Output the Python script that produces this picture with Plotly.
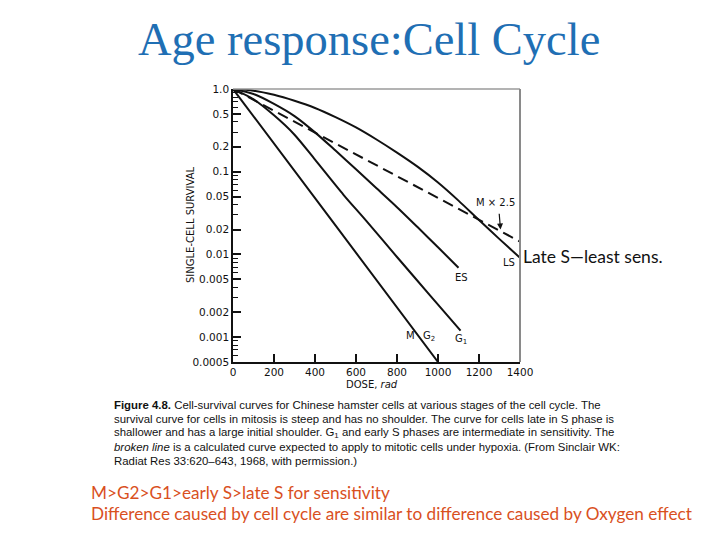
import plotly.graph_objects as go

# ---------------- data ----------------
dose_m = [0, 500, 1000]
surv_m = [1.0, 0.0224, 0.0005]

dose_g1 = [0, 100, 200, 300, 400, 539, 645, 800, 963, 1110]
surv_g1 = [1.0, 0.75, 0.48, 0.28, 0.14, 0.0526, 0.0263, 0.0093, 0.00316, 0.0012]

dose_es = [0, 100, 200, 300, 400, 500, 600, 700, 800, 900, 1000, 1100]
surv_es = [1.0, 0.87, 0.66, 0.47, 0.299, 0.18, 0.107, 0.063, 0.0372, 0.0214, 0.0122, 0.0069]

dose_ls = [0, 100, 200, 300, 400, 500, 600, 700, 800, 900, 1000, 1100, 1200, 1300, 1400]
surv_ls = [1.0, 0.955, 0.85, 0.72, 0.59, 0.457, 0.343, 0.245, 0.17, 0.115, 0.074,
           0.0447, 0.026, 0.0153, 0.0091]

dose_hyp = [0, 1400]
surv_hyp = [1.0, 0.0143]

x_ticks = [0, 200, 400, 600, 800, 1000, 1200, 1400]
x_tick_text = ["0", "200", "400", "600", "800", "1000", "1200", "1400"]
y_ticks = [1.0, 0.5, 0.2, 0.1, 0.05, 0.02, 0.01, 0.005, 0.002, 0.001, 0.0005]
y_tick_text = ["1.0", "0.5", "0.2", "0.1", "0.05", "0.02", "0.01", "0.005", "0.002", "0.001", "0.0005"]
y_minor = [m * 10.0 ** k for k in range(-4, 0) for m in (3, 4, 6, 7, 8, 9)]
y_minor = [v for v in y_minor if 0.0005 < v < 1.0]

title_text = "Age response:Cell Cycle"
caption_lines = [
    "<b>Figure 4.8.</b> Cell-survival curves for Chinese hamster cells at various stages of the cell cycle. The",
    "survival curve for cells in mitosis is steep and has no shoulder. The curve for cells late in S phase is",
    "shallower and has a large initial shoulder. G<sub>1</sub> and early S phases are intermediate in sensitivity. The",
    "<i>broken line</i> is a calculated curve expected to apply to mitotic cells under hypoxia. (From Sinclair WK:",
    "Radiat Res 33:620\u2013643, 1968, with permission.)",
]
note_lines = [
    "M>G2>G1>early S>late S for sensitivity",
    "Difference caused by cell cycle are similar to difference caused by Oxygen effect",
]

# ---------------- figure ----------------
W, H = 728, 546
L, R, T, B = 233, 520, 89, 362   # plot area in pixels


def px(x):
    return (x - L) / (R - L)


def py(y):
    return (B - y) / (B - T)


fig = go.Figure()
for d, s in [(dose_m, surv_m), (dose_g1, surv_g1), (dose_es, surv_es), (dose_ls, surv_ls)]:
    fig.add_trace(go.Scatter(x=d, y=s, mode="lines",
                             line=dict(color="#111111", width=2, shape="spline", smoothing=0.8),
                             showlegend=False, hoverinfo="skip"))
fig.add_trace(go.Scatter(x=dose_hyp, y=surv_hyp, mode="lines",
                         line=dict(color="#111111", width=2, dash="11px,6px"),
                         showlegend=False, hoverinfo="skip"))

axfont = dict(family="DejaVu Sans", size=10.5, color="#111111")
fig.update_xaxes(range=[0, 1400], tickvals=x_ticks, ticktext=x_tick_text, ticks="inside",
                 ticklen=8, tickwidth=1.5, tickcolor="#111", showline=True, linecolor="#111",
                 linewidth=1.5, showgrid=False, zeroline=False, tickfont=axfont)
fig.update_yaxes(type="log", range=[-3.30103, 0], tickvals=y_ticks, ticktext=y_tick_text,
                 ticks="inside", ticklen=8, tickwidth=1.5, tickcolor="#111", showline=True,
                 linecolor="#111", linewidth=1.5, showgrid=False, zeroline=False, tickfont=axfont,
                 minor=dict(tickvals=y_minor, ticks="inside", ticklen=5, tickwidth=1, tickcolor="#111"))

# top and right frame (grey)
fig.add_shape(type="line", xref="paper", yref="paper", x0=0, x1=1, y0=1, y1=1,
              line=dict(color="#9a9a9a", width=1.5))
fig.add_shape(type="line", xref="paper", yref="paper", x0=1, x1=1, y0=0, y1=1,
              line=dict(color="#8a8a8a", width=2))

lab = dict(family="DejaVu Sans", size=10, color="#111111")
ann = []
# curve labels (data coordinates, log10 for y)
for text, x, ly in [("M \u00d7 2.5", 1280, -1.376), ("LS", 1344, -2.10), ("ES", 1114, -2.285),
                    ("G<sub>1</sub>", 1112, -3.03), ("M", 865, -2.975), ("G<sub>2</sub>", 955, -2.99)]:
    ann.append(dict(x=x, y=ly, xref="x", yref="y", text=text, showarrow=False, font=lab,
                    xanchor="center", yanchor="middle"))
ann.append(dict(x=1305, y=-1.70, xref="x", yref="y", ax=1298, ay=-1.49, axref="x", ayref="y",
                text="", showarrow=True, arrowhead=2, arrowsize=1, arrowwidth=1.2, arrowcolor="#111"))
# axis titles
ann.append(dict(x=px(190), y=py(225), xref="paper", yref="paper", text="SINGLE-CELL SURVIVAL",
                textangle=-90, showarrow=False, xanchor="center", yanchor="middle",
                font=dict(family="DejaVu Sans", size=10, color="#111")))
ann.append(dict(x=px(372), y=py(384), xref="paper", yref="paper", text="DOSE, <i>rad</i>",
                showarrow=False, xanchor="center", yanchor="middle",
                font=dict(family="DejaVu Sans", size=10, color="#111")))
# side note
ann.append(dict(x=px(521), y=py(256), xref="paper", yref="paper", text="Late S\u2014least sens.",
                xanchor="left", yanchor="middle", showarrow=False,
                font=dict(family="Lato", size=17.5, color="#111")))
# title
ann.append(dict(x=px(369), y=py(40), xref="paper", yref="paper", text=title_text, showarrow=False,
                xanchor="center", yanchor="middle",
                font=dict(family="Liberation Serif", size=46.5, color="#1f6fb4")))
# caption, one line at a time
for i, t in enumerate(caption_lines):
    ann.append(dict(x=px(112), y=py(405 + 14 * i), xref="paper", yref="paper", xanchor="left",
                    yanchor="middle", align="left", text=t, showarrow=False,
                    font=dict(family="Liberation Sans", size=11.4, color="#111")))
# red notes
for i, t in enumerate(note_lines):
    ann.append(dict(x=px(89), y=py(492 + 21 * i), xref="paper", yref="paper", xanchor="left",
                    yanchor="middle", align="left", text=t, showarrow=False,
                    font=dict(family="Lato", size=17.2, color="#d9501e")))

fig.update_layout(width=W, height=H, margin=dict(l=L, r=W - R, t=T, b=H - B, pad=0),
                  paper_bgcolor="white", plot_bgcolor="white", annotations=ann)

fig.write_html("out.html", config={"displayModeBar": False},
               post_script="document.body.style.margin='0';")
